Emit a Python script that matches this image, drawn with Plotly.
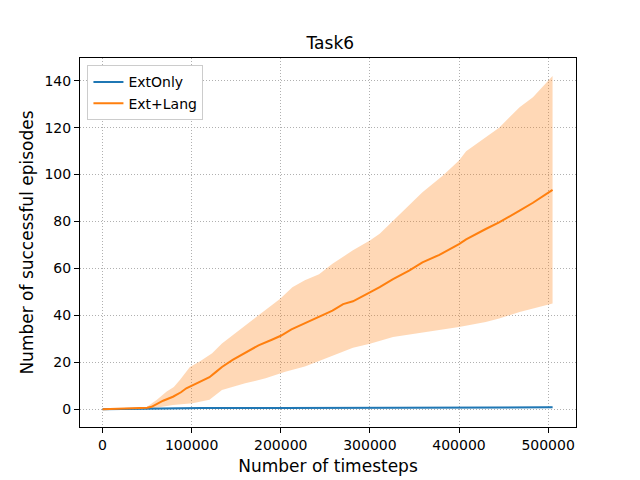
import plotly.graph_objects as go

# timesteps are in steps
ext_lang_x = [0, 10000, 20000, 30000, 40000, 50000, 55000, 60000, 68000, 79000, 88000, 94000,
              100000, 110000, 120000, 127000, 134000, 146000, 160000, 175000, 190000, 200000,
              212000, 227000, 243000, 258000, 270000, 281000, 300000, 311000, 326000, 344000,
              359000, 378000, 400000, 408000, 430000, 445000, 468000, 483000, 505000]
ext_lang_mean = [0, 0.1, 0.3, 0.4, 0.4, 0.6, 1.0, 2.0, 3.6, 5.3, 7.2, 8.9,
                 10.0, 11.8, 13.6, 15.8, 18.0, 21.0, 24.0, 27.2, 29.6, 31.3,
                 34.0, 36.6, 39.3, 42.0, 44.8, 46.0, 49.8, 52.0, 55.4, 59.1,
                 62.6, 65.8, 70.4, 72.4, 76.8, 79.6, 84.6, 88.0, 93.5]

ext_lang_upper_x = [0, 45000, 50000, 61000, 72000, 80000, 87000, 98000, 109000, 123000, 134000,
                    149000, 168000, 183000, 199000, 213000, 227000, 243000, 258000, 281000, 300000,
                    311000, 326000, 344000, 359000, 382000, 400000, 408000, 430000, 445000, 468000,
                    483000, 505000]
ext_lang_upper = [0, 0.3, 1, 4, 7.5, 9.5, 12.5, 18, 20.3, 23.8, 28,
                  32.3, 38, 42.3, 47, 52, 55, 57.5, 62, 67.7, 71.9,
                  74.8, 80.4, 86.8, 92.5, 99.6, 106, 110, 116, 120, 128.7,
                  133, 142]

ext_lang_lower_x = [0, 50000, 79000, 101000, 120000, 134000, 160000, 183000, 205000, 227000,
                    243000, 281000, 300000, 326000, 363000, 400000, 430000, 445000, 468000, 505000]
ext_lang_lower = [-0.3, 0, 1.8, 2.5, 4, 8.2, 11, 13.2, 16, 18.2,
                  20.5, 26.2, 27.9, 30.8, 32.9, 35, 37.2, 38.6, 41.4, 45]

ext_only_x = [0, 50000, 100000, 110000, 200000, 300000, 400000, 465000, 480000, 505000]
ext_only_mean = [0, 0.2, 0.3, 0.5, 0.5, 0.5, 0.5, 0.5, 0.8, 0.8]
ext_only_upper = [0.1, 0.4, 0.6, 0.8, 0.8, 0.8, 0.8, 0.8, 1.1, 1.1]
ext_only_lower = [-0.1, 0.0, 0.0, 0.2, 0.2, 0.2, 0.2, 0.2, 0.5, 0.5]

BLUE = '#1f77b4'
ORANGE = '#ff7f0e'
FONT = 'DejaVu Sans'

# the page body keeps its 8px default margin, so the figure is made 8px smaller
W, H = 632, 472

fig = go.Figure()

# shaded bands
fig.add_trace(go.Scatter(
    x=ext_only_x + ext_only_x[::-1],
    y=ext_only_upper + ext_only_lower[::-1],
    fill='toself', fillcolor='rgba(31,119,180,0.3)',
    line=dict(width=0), mode='lines', showlegend=False, hoverinfo='skip'))
fig.add_trace(go.Scatter(
    x=ext_lang_upper_x + ext_lang_lower_x[::-1],
    y=ext_lang_upper + ext_lang_lower[::-1],
    fill='toself', fillcolor='rgba(255,127,14,0.3)',
    line=dict(width=0), mode='lines', showlegend=False, hoverinfo='skip'))

# mean lines
fig.add_trace(go.Scatter(x=ext_only_x, y=ext_only_mean, mode='lines', name='ExtOnly',
                         line=dict(color=BLUE, width=2)))
fig.add_trace(go.Scatter(x=ext_lang_x, y=ext_lang_mean, mode='lines', name='Ext+Lang',
                         line=dict(color=ORANGE, width=2)))

axis_common = dict(
    showgrid=True, gridcolor='#b0b0b0', griddash='1px,2px', gridwidth=1,
    showline=True, linecolor='black', linewidth=1, mirror=True,
    ticks='outside', ticklen=5, tickcolor='black',
    tickfont=dict(family=FONT, size=14, color='black'),
    zeroline=False, automargin=False,
)

fig.update_xaxes(axis_common, range=[-25300, 531300], tickvals=[0, 100000, 200000, 300000, 400000, 500000],
                 tickformat='d',
                 title=dict(text='Number of timesteps', font=dict(family=FONT, size=17, color='black'),
                            standoff=8))
fig.update_yaxes(axis_common, range=[-7.6, 149.7], tickvals=[0, 20, 40, 60, 80, 100, 120, 140],
                 title=dict(text='Number of successful episodes', font=dict(family=FONT, size=17, color='black'),
                            standoff=6))

fig.update_layout(
    width=W, height=H,
    margin=dict(l=72, r=64, t=50, b=53),
    paper_bgcolor='white', plot_bgcolor='white',
    font=dict(family=FONT, color='black'),
    title=dict(text='Task6', x=0.51, xanchor='center', y=1 - 35 / H, yanchor='middle',
               yref='container', font=dict(family=FONT, size=17, color='black')),
    legend=dict(x=0.015, y=0.98, xanchor='left', yanchor='top',
                bgcolor='white', bordercolor='#cccccc', borderwidth=1,
                font=dict(family=FONT, size=14, color='black')),
    showlegend=True,
)

fig.write_html("out.html")
